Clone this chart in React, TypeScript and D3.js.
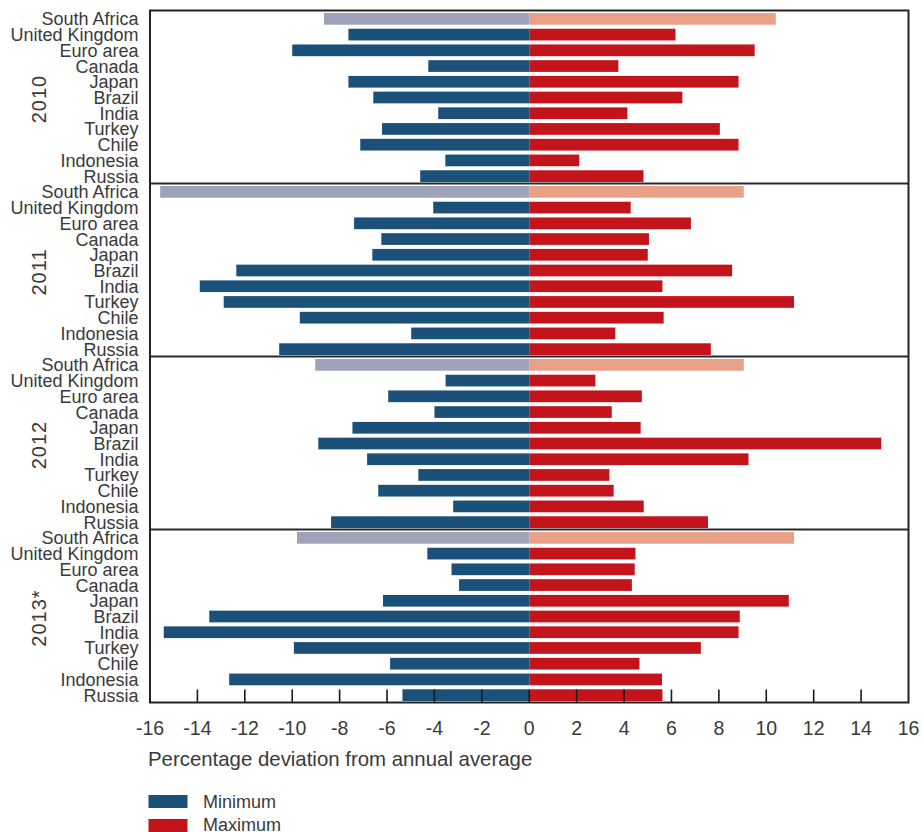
import React from "react";
import * as d3 from "d3";

const countries = ["South Africa","United Kingdom","Euro area","Canada","Japan","Brazil","India","Turkey","Chile","Indonesia","Russia"];
const years = ["2010","2011","2012","2013*"];

const min2010 = [-8.66,-7.63,-10.0,-4.26,-7.63,-6.58,-3.84,-6.21,-7.13,-3.54,-4.6];
const max2010 = [10.4,6.17,9.51,3.76,8.83,6.46,4.14,8.04,8.83,2.11,4.82];
const min2011 = [-15.57,-4.05,-7.39,-6.24,-6.62,-12.36,-13.9,-12.89,-9.68,-4.98,-10.55];
const max2011 = [9.05,4.28,6.82,5.05,5.0,8.56,5.62,11.17,5.67,3.63,7.66];
const min2012 = [-9.03,-3.53,-5.95,-4.0,-7.46,-8.9,-6.84,-4.68,-6.37,-3.21,-8.36];
const max2012 = [9.05,2.79,4.75,3.48,4.7,14.85,9.25,3.38,3.56,4.83,7.54];
const min2013 = [-9.8,-4.3,-3.28,-2.96,-6.17,-13.5,-15.42,-9.93,-5.87,-12.66,-5.35];
const max2013 = [11.17,4.48,4.45,4.33,10.95,8.88,8.83,7.24,4.65,5.6,5.62];

const mins = [min2010, min2011, min2012, min2013];
const maxs = [max2010, max2011, max2012, max2013];
const tickValues = d3.range(-16, 17, 2);

const BLUE = "#1b5079";
const RED = "#c4141b";
const GRAY = "#9ea3ba";
const SALMON = "#e8a187";
const FONT = "'Liberation Sans', Arial, Helvetica, sans-serif";
const TEXT = "#3a3a3a";

export default function App() {
  const left = 150, right = 908.5, top = 10.5, bottom = 702.5;
  const x = d3.scaleLinear().domain([-16, 16]).range([left, right]);
  const H = (bottom - top) / years.length;
  const sections = years.map((yr, i) => {
    const s0 = top + i * H;
    const y = d3.scaleBand<string>().domain(countries).range([s0 + 2.5, s0 + H - 1.5]).paddingInner(0.255).paddingOuter(0);
    return { yr, s0, y, i };
  });

  return (
    <svg width={923} height={832} style={{ display: "block", position: "absolute", left: 0, top: 0 }} fontFamily={FONT}>
      {sections.map(({ yr, s0, y, i }) => (
        <g key={yr}>
          {countries.map((c, j) => {
            const isSA = j === 0;
            const mn = mins[i][j], mx = maxs[i][j];
            return (
              <g key={c}>
                <rect x={x(mn)} y={y(c)} width={x(0) - x(mn)} height={y.bandwidth()} fill={isSA ? GRAY : BLUE} />
                <rect x={x(0)} y={y(c)} width={x(mx) - x(0)} height={y.bandwidth()} fill={isSA ? SALMON : RED} />
                <text x={138.5} y={(y(c) as number) + y.bandwidth() / 2} dy="0.36em" textAnchor="end" fontSize={18} fill={TEXT}>{c}</text>
              </g>
            );
          })}
          <text transform={`translate(45.5,${s0 + H / 2 + 2}) rotate(-90)`} textAnchor="middle" fontSize={20} fill={TEXT} letterSpacing={1}>{yr}</text>
          {i > 0 && <line x1={left} x2={right} y1={s0} y2={s0} stroke="#2a2a2a" strokeWidth={2} />}
        </g>
      ))}
      {tickValues.slice(1, -1).map(t => (
        <line key={t} x1={x(t)} x2={x(t)} y1={bottom} y2={bottom - 13} stroke="#1a1a1a" strokeWidth={1.6} />
      ))}
      <rect x={left} y={top} width={right - left} height={bottom - top} fill="none" stroke="#222" strokeWidth={2} />
      {tickValues.map(t => (
        <text key={t} x={x(t)} y={735} textAnchor="middle" fontSize={19.5} fill={TEXT}>{t}</text>
      ))}
      <text x={148} y={766} fontSize={20.4} fill={TEXT}>Percentage deviation from annual average</text>
      <rect x={148.5} y={795} width={39} height={13} fill={BLUE} />
      <rect x={148.5} y={819} width={39} height={13} fill={RED} />
      <text x={203} y={802} dy="0.36em" fontSize={18} fill={TEXT}>Minimum</text>
      <text x={203} y={825} dy="0.36em" fontSize={18} fill={TEXT}>Maximum</text>
    </svg>
  );
}
